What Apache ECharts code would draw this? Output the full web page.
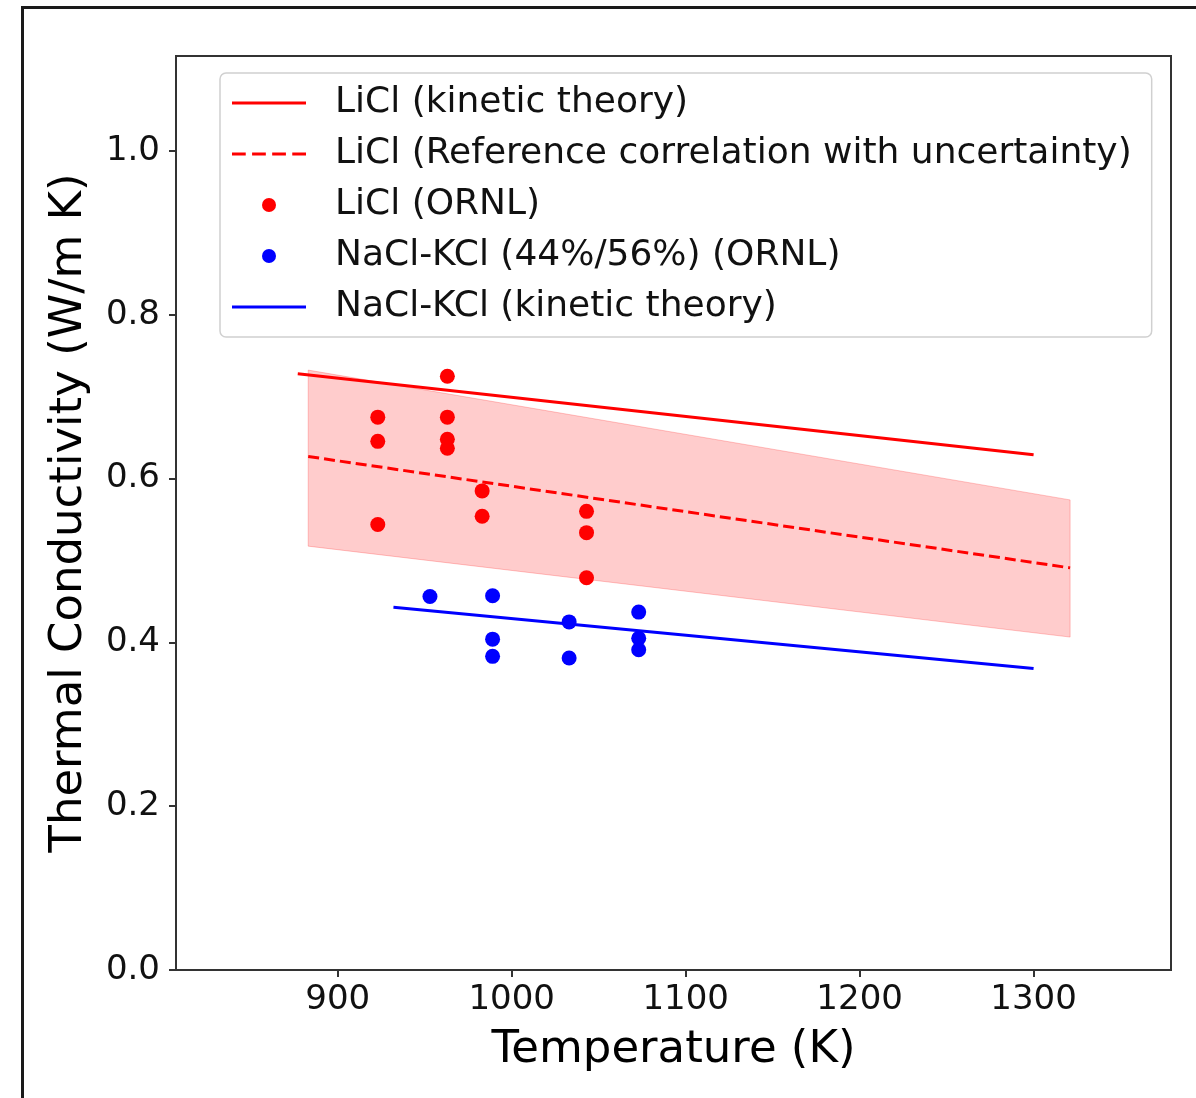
<!DOCTYPE html>
<html>
<head>
<meta charset="utf-8">
<script src="https://cdn.jsdelivr.net/npm/echarts@6/dist/echarts.min.js"></script>
<style>
html,body{margin:0;padding:0;background:#fff;}
#chart{width:1196px;height:1098px;}
</style>
</head>
<body>
<div id="chart"></div>
<script>
// ---- Data ----
const xTickValues = [900, 1000, 1100, 1200, 1300];
const yTickValues = [0.0, 0.2, 0.4, 0.6, 0.8, 1.0];

// LiCl kinetic theory (straight line)
const liclKineticT = [877, 1300];
const liclKineticK = [0.728, 0.629];

// LiCl reference correlation (dashed) with uncertainty band
const liclRefT = [883, 1321];
const liclRefK = [0.627, 0.491];
const liclRefUpper = [0.7325, 0.574];
const liclRefLower = [0.5175, 0.4065];

// LiCl ORNL measurements
const liclOrnlT = [923, 923, 923, 963, 963, 963, 963, 983, 983, 1043, 1043, 1043];
const liclOrnlK = [0.675, 0.6455, 0.544, 0.725, 0.675, 0.648, 0.637, 0.585, 0.554, 0.560, 0.534, 0.479];

// NaCl-KCl ORNL measurements
const naclOrnlT = [953, 989, 989, 989, 1033, 1033, 1073, 1073, 1073];
const naclOrnlK = [0.456, 0.457, 0.404, 0.383, 0.425, 0.381, 0.437, 0.405, 0.391];

// NaCl-KCl kinetic theory
const naclKineticT = [932, 1300];
const naclKineticK = [0.443, 0.368];

const names = [
  'LiCl (kinetic theory)',
  'LiCl (Reference correlation with uncertainty)',
  'LiCl (ORNL)',
  'NaCl-KCl (44%/56%) (ORNL)',
  'NaCl-KCl (kinetic theory)'
];

const zip = (a, b) => a.map((v, i) => [v, b[i]]);
const FONT = 'DejaVu Sans';
const SOLID_ICON = 'path://M0,0H74V3H0Z';
const DASH_ICON = 'path://M0,0h13v3h-13z M19,0h13v3h-13z M38,0h13v3h-13z M57,0h13v3h-13z';

const chart = echarts.init(document.getElementById('chart'), null, {renderer: 'canvas'});
chart.setOption({
  animation: false,
  backgroundColor: '#fff',
  graphic: [{
    type: 'rect', left: 20, top: 5, silent: true,
    shape: {width: 1200, height: 1200},
    style: {fill: 'none', stroke: '#1a1a1a', lineWidth: 3}
  }],
  grid: {
    left: 176, top: 56, right: 25, bottom: 128,
    show: true, borderColor: '#333', borderWidth: 2, backgroundColor: 'transparent'
  },
  legend: {
    data: [
      {name: names[0], icon: SOLID_ICON},
      {name: names[1], icon: DASH_ICON},
      {name: names[2], icon: 'circle'},
      {name: names[3], icon: 'circle'},
      {name: names[4], icon: SOLID_ICON}
    ],
    orient: 'vertical',
    left: 220, top: 73,
    padding: [12, 20, 12, 12],
    itemWidth: 74, itemHeight: 14, itemGap: 15,
    itemStyle: {borderWidth: 0},
    backgroundColor: 'rgba(255,255,255,0.85)',
    borderColor: '#d0d0d0', borderWidth: 1.5, borderRadius: 6,
    textStyle: {fontFamily: FONT, fontSize: 36, color: '#111', padding: [0, 0, 0, 24]}
  },
  xAxis: {
    type: 'value', min: 807, max: 1379,
    name: 'Temperature (K)', nameLocation: 'middle', nameGap: 58,
    nameTextStyle: {fontFamily: FONT, fontSize: 45, color: '#000'},
    axisLine: {show: true, lineStyle: {color: '#333', width: 2}},
    axisTick: {show: true, inside: false, length: 7, lineStyle: {color: '#333', width: 2}, customValues: xTickValues},
    axisLabel: {fontFamily: FONT, fontSize: 34, color: '#111', margin: 13, customValues: xTickValues,
      formatter: v => String(Math.round(v))},
    splitLine: {show: false}
  },
  yAxis: {
    type: 'value', min: 0, max: 1.116,
    name: 'Thermal Conductivity (W/m K)', nameLocation: 'middle', nameGap: 84,
    nameTextStyle: {fontFamily: FONT, fontSize: 45, color: '#000'},
    axisLine: {show: true, onZero: false, lineStyle: {color: '#333', width: 2}},
    axisTick: {show: true, inside: false, length: 7, lineStyle: {color: '#333', width: 2}, customValues: yTickValues},
    axisLabel: {fontFamily: FONT, fontSize: 34, color: '#111', margin: 16, customValues: yTickValues,
      formatter: v => v.toFixed(1)},
    splitLine: {show: false}
  },
  series: [
    {
      type: 'custom',
      name: 'band',
      silent: true,
      z: 1,
      data: liclRefT.map((t, i) => [t, liclRefLower[i], liclRefUpper[i]]),
      encode: {x: 0, y: [1, 2]},
      renderItem: function (params, api) {
        const i = params.dataIndex;
        if (i >= liclRefT.length - 1) return null;
        const p1 = api.coord([liclRefT[i], liclRefUpper[i]]);
        const p2 = api.coord([liclRefT[i + 1], liclRefUpper[i + 1]]);
        const p3 = api.coord([liclRefT[i + 1], liclRefLower[i + 1]]);
        const p4 = api.coord([liclRefT[i], liclRefLower[i]]);
        return {
          type: 'polygon',
          shape: {points: [p1, p2, p3, p4]},
          style: {fill: 'rgba(255,0,0,0.2)', stroke: 'rgba(255,0,0,0.22)', lineWidth: 1}
        };
      }
    },
    {
      type: 'line', name: names[0], data: zip(liclKineticT, liclKineticK),
      symbol: 'none', color: '#ff0000', itemStyle: {color: '#ff0000'},
      lineStyle: {color: '#ff0000', width: 3}, z: 3
    },
    {
      type: 'line', name: names[1], data: zip(liclRefT, liclRefK),
      symbol: 'none', color: '#ff0000', itemStyle: {color: '#ff0000'},
      lineStyle: {color: '#ff0000', width: 3, type: [11, 5]}, z: 3
    },
    {
      type: 'line', name: names[4], data: zip(naclKineticT, naclKineticK),
      symbol: 'none', color: '#0000ff', itemStyle: {color: '#0000ff'},
      lineStyle: {color: '#0000ff', width: 3}, z: 3
    },
    {
      type: 'scatter', name: names[2], data: zip(liclOrnlT, liclOrnlK),
      symbol: 'circle', symbolSize: 15, itemStyle: {color: '#ff0000', opacity: 1}, z: 4
    },
    {
      type: 'scatter', name: names[3], data: zip(naclOrnlT, naclOrnlK),
      symbol: 'circle', symbolSize: 15, itemStyle: {color: '#0000ff', opacity: 1}, z: 4
    }
  ]
});
</script>
</body>
</html>
